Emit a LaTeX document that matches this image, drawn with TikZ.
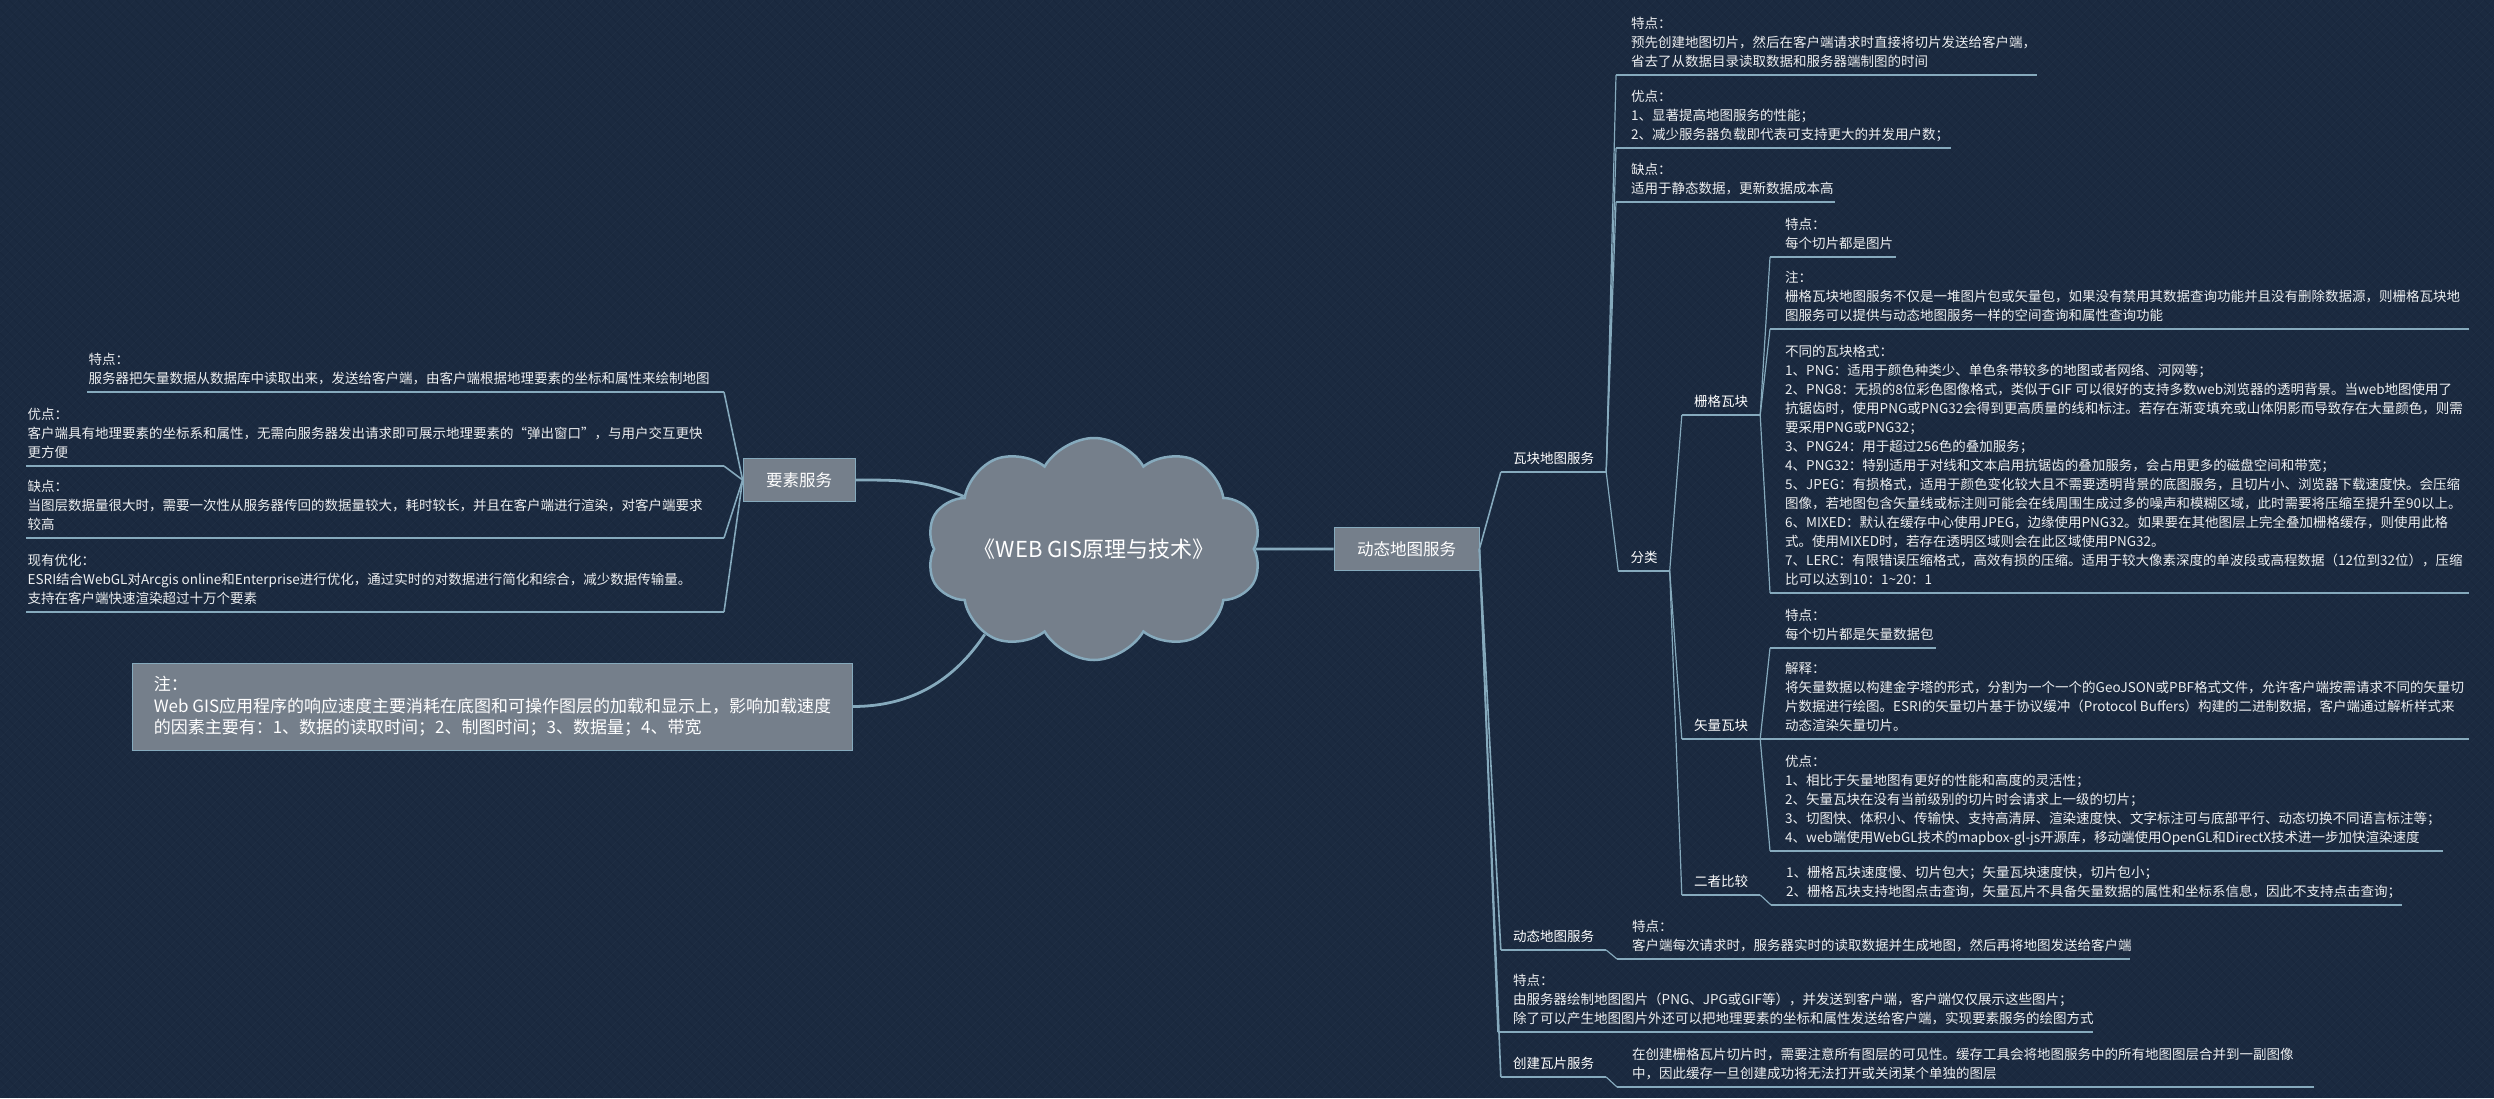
\documentclass[tikz,border=0pt]{standalone}
\usepackage{fontspec}
\setmainfont{Noto Sans CJK SC}
\usepackage{tikz}
\usetikzlibrary{shapes.symbols}

\definecolor{bgblue}{HTML}{1B2A40}
\definecolor{linec}{HTML}{86AABD}
\definecolor{boxgray}{HTML}{757F8B}
\definecolor{leaftext}{HTML}{ECEEF0}

\newcommand{\leafsize}{\fontsize{13.5}{19}\selectfont}

\begin{document}
\begin{tikzpicture}[x=1pt, y=-1pt,
      topic/.style={cloud, cloud puffs=10, cloud puff arc=120, cloud ignores aspect, inner sep=0pt, draw=linec, line width=2.5pt, fill=boxgray, minimum width=335pt, minimum height=222pt, text=white, font=\fontsize{22}{26}\selectfont},
      mainbox/.style={rectangle, draw=linec, line width=0.8pt, fill=boxgray, text=white, minimum height=43pt, inner xsep=23pt, font=\fontsize{16.5}{20}\selectfont},
      notebox/.style={rectangle, draw=linec, line width=0.8pt, fill=boxgray, text=white, align=left, minimum height=87pt, inner xsep=21pt, font=\fontsize{17}{21.5}\selectfont},
      sub/.style={anchor=south, inner xsep=12pt, inner ysep=2.5pt, text=white, font=\leafsize, execute at end node=\strut},
      leaf/.style={anchor=south west, align=left, inner xsep=15pt, inner ysep=2.5pt, text=leaftext, font=\leafsize, execute at end node=\strut},
      lleaf/.style={leaf, inner xsep=1.5pt},
      trunk/.style={draw=linec, line width=2.8pt},
      limb/.style={draw=linec, line width=1.6pt},
      twig/.style={draw=linec, line width=1.2pt}
    ]
      \useasboundingbox (0,0) rectangle (2494,1098);
      \fill[bgblue] (0,0) rectangle (2494,1098);
      % linen texture
      \foreach \i in {0,9,...,3600} {
        \draw[white, opacity=0.02, line width=0.7pt] (\i,0) -- ({\i-1098},1098);
        \draw[black, opacity=0.06, line width=0.7pt] ({\i-1098},0) -- (\i,1098);
      }

      % Center and main branches
      \node[topic] (root) at (1094,549) {《WEB GIS原理与技术》};
      \node[mainbox] (fs) at (799,480) {要素服务};
      \node[mainbox] (dt) at (1406.5,549) {动态地图服务};
      \node[notebox] (note) at (492.5,706.5) {注：\\Web GIS应用程序的响应速度主要消耗在底图和可操作图层的加载和显示上，影响加载速度\\的因素主要有：1、数据的读取时间；2、制图时间；3、数据量；4、带宽};

      % Sub branches
      \node[sub] (wk) at (1553.5,472) {瓦块地图服务};
      \node[sub] (fl) at (1644,571) {分类};
      \node[sub] (sg) at (1721,415) {栅格瓦块};
      \node[sub] (sl) at (1721,739) {矢量瓦块};
      \node[sub] (bj) at (1721,895) {二者比较};
      \node[sub] (dd) at (1553.5,950) {动态地图服务};
      \node[sub] (cj) at (1553.5,1077) {创建瓦片服务};

      % Leaves of the tile service
      \node[leaf] (tp1) at (1616,75) {特点：\\预先创建地图切片，然后在客户端请求时直接将切片发送给客户端，\\省去了从数据目录读取数据和服务器端制图的时间};
      \node[leaf] (tp2) at (1616,148) {优点：\\1、显著提高地图服务的性能；\\2、减少服务器负载即代表可支持更大的并发用户数；};
      \node[leaf] (tp3) at (1616,202) {缺点：\\适用于静态数据，更新数据成本高};

      \node[leaf] (r1) at (1770,257) {特点：\\每个切片都是图片};
      \node[leaf] (r2) at (1770,329) {注：\\栅格瓦块地图服务不仅是一堆图片包或矢量包，如果没有禁用其数据查询功能并且没有删除数据源，则栅格瓦块地\\图服务可以提供与动态地图服务一样的空间查询和属性查询功能};
      \node[leaf] (r3) at (1770,593) {不同的瓦块格式：\\1、PNG：适用于颜色种类少、单色条带较多的地图或者网络、河网等；\\2、PNG8：无损的8位彩色图像格式，类似于GIF 可以很好的支持多数web浏览器的透明背景。当web地图使用了\\抗锯齿时，使用PNG或PNG32会得到更高质量的线和标注。若存在渐变填充或山体阴影而导致存在大量颜色，则需\\要采用PNG或PNG32；\\3、PNG24：用于超过256色的叠加服务；\\4、PNG32：特别适用于对线和文本启用抗锯齿的叠加服务，会占用更多的磁盘空间和带宽；\\5、JPEG：有损格式，适用于颜色变化较大且不需要透明背景的底图服务，且切片小、浏览器下载速度快。会压缩\\图像，若地图包含矢量线或标注则可能会在线周围生成过多的噪声和模糊区域，此时需要将压缩至提升至90以上。\\6、MIXED：默认在缓存中心使用JPEG，边缘使用PNG32。如果要在其他图层上完全叠加栅格缓存，则使用此格\\式。使用MIXED时，若存在透明区域则会在此区域使用PNG32。\\7、LERC：有限错误压缩格式，高效有损的压缩。适用于较大像素深度的单波段或高程数据（12位到32位），压缩\\比可以达到10：1\textasciitilde 20：1};

      \node[leaf] (v1) at (1770,648) {特点：\\每个切片都是矢量数据包};
      \node[leaf] (v2) at (1770,739) {解释：\\将矢量数据以构建金字塔的形式，分割为一个一个的GeoJSON或PBF格式文件，允许客户端按需请求不同的矢量切\\片数据进行绘图。ESRI的矢量切片基于协议缓冲（Protocol Buffers）构建的二进制数据，客户端通过解析样式来\\动态渲染矢量切片。};
      \node[leaf] (v3) at (1770,851) {优点：\\1、相比于矢量地图有更好的性能和高度的灵活性；\\2、矢量瓦块在没有当前级别的切片时会请求上一级的切片；\\3、切图快、体积小、传输快、支持高清屏、渲染速度快、文字标注可与底部平行、动态切换不同语言标注等；\\4、web端使用WebGL技术的mapbox-gl-js开源库，移动端使用OpenGL和DirectX技术进一步加快渲染速度};

      \node[leaf] (c1) at (1771,905) {1、栅格瓦块速度慢、切片包大；矢量瓦块速度快，切片包小；\\2、栅格瓦块支持地图点击查询，矢量瓦片不具备矢量数据的属性和坐标系信息，因此不支持点击查询；};

      % Leaves of the lower branches
      \node[leaf] (d1) at (1617,959) {特点：\\客户端每次请求时，服务器实时的读取数据并生成地图，然后再将地图发送给客户端};
      \node[leaf] (d2) at (1498,1032) {特点：\\由服务器绘制地图图片（PNG、JPG或GIF等），并发送到客户端，客户端仅仅展示这些图片；\\除了可以产生地图图片外还可以把地理要素的坐标和属性发送给客户端，实现要素服务的绘图方式};
      \node[leaf] (k1) at (1617,1087) {在创建栅格瓦片切片时，需要注意所有图层的可见性。缓存工具会将地图服务中的所有地图图层合并到一副图像\\中，因此缓存一旦创建成功将无法打开或关闭某个单独的图层};

      % Leaves of the feature service
      \node[lleaf] (f1) at (87,392) {特点：\\服务器把矢量数据从数据库中读取出来，发送给客户端，由客户端根据地理要素的坐标和属性来绘制地图};
      \node[lleaf] (f2) at (26,466) {优点：\\客户端具有地理要素的坐标系和属性，无需向服务器发出请求即可展示地理要素的“弹出窗口”，与用户交互更快\\更方便};
      \node[lleaf] (f3) at (26,538) {缺点：\\当图层数据量很大时，需要一次性从服务器传回的数据量较大，耗时较长，并且在客户端进行渲染，对客户端要求\\较高};
      \node[lleaf] (f4) at (26,612) {现有优化：\\ESRI结合WebGL对Arcgis online和Enterprise进行优化，通过实时的对数据进行简化和综合，减少数据传输量。\\支持在客户端快速渲染超过十万个要素};
      \coordinate (f1e) at (724,392);
      \coordinate (f2e) at (724,466);
      \coordinate (f3e) at (724,538);
      \coordinate (f4e) at (724,612);

      % Connectors from the center
      \draw[trunk] (root.east) -- (dt.west);
      \draw[trunk] (root.158) .. controls +(-40,-16) and +(50,0) .. (fs.east);
      \draw[trunk] (root.218) .. controls +(-30,45) and +(60,0) .. (note.east);

      % Connectors of the tree
      \foreach \c in {wk,dd,d2,cj} \draw[limb] (dt.east) -- (\c.south west);
      \foreach \c in {tp1,tp2,tp3,fl} \draw[twig] (wk.south east) -- (\c.south west);
      \foreach \c in {sg,sl,bj} \draw[twig] (fl.south east) -- (\c.south west);
      \foreach \c in {r1,r2,r3} \draw[twig] (sg.south east) -- (\c.south west);
      \foreach \c in {v1,v2,v3} \draw[twig] (sl.south east) -- (\c.south west);
      \draw[twig] (bj.south east) -- (c1.south west);
      \draw[twig] (dd.south east) -- (d1.south west);
      \draw[twig] (cj.south east) -- (k1.south west);
      \foreach \c in {1,...,4} \draw[limb] (fs.west) -- (f\c e);

      % Underlines
      \foreach \c in {wk,fl,sg,sl,bj,dd,cj} \draw[twig] (\c.south west) -- (\c.south east);
      \foreach \c/\l in {tp1/421,tp2/335,tp3/219,r1/126,r2/699,r3/699,v1/166,v2/699,v3/673,c1/631,d1/513,d2/595,k1/697}
        \draw[twig] (\c.south west) -- +(\l,0);
      \foreach \c in {1,...,4} \draw[twig] (f\c.south west) -- (f\c e);
    \end{tikzpicture}
\end{document}
